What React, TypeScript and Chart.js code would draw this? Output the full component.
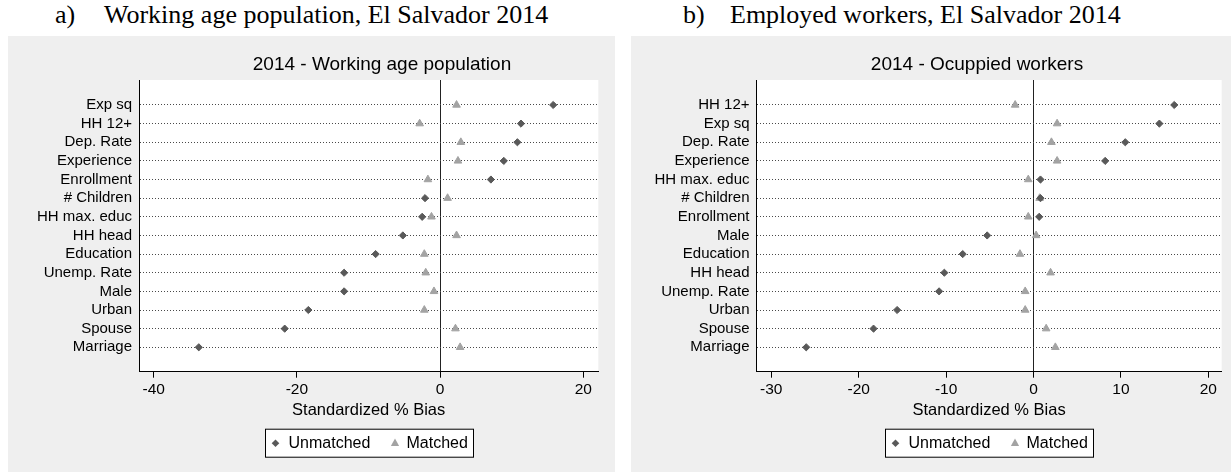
import React, { useEffect, useRef } from 'react';
import { Chart, registerables } from 'chart.js';

Chart.register(...registerables);

// ---------- Data ----------
const leftLabels = ['Exp sq', 'HH 12+', 'Dep. Rate', 'Experience', 'Enrollment', '# Children', 'HH max. educ', 'HH head', 'Education', 'Unemp. Rate', 'Male', 'Urban', 'Spouse', 'Marriage'];
const leftUnmatched = [15.8, 11.3, 10.8, 8.9, 7.1, -2.1, -2.5, -5.2, -9.0, -13.4, -13.4, -18.4, -21.7, -33.7];
const leftMatched = [2.3, -2.85, 2.9, 2.5, -1.7, 1.05, -1.2, 2.3, -2.2, -2.0, -0.85, -2.2, 2.15, 2.8];
const leftTicks = [-40, -20, 0, 20];

const rightLabels = ['HH 12+', 'Exp sq', 'Dep. Rate', 'Experience', 'HH max. educ', '# Children', 'Enrollment', 'Male', 'Education', 'HH head', 'Unemp. Rate', 'Urban', 'Spouse', 'Marriage'];
const rightUnmatched = [16.1, 14.4, 10.5, 8.2, 0.8, 0.8, 0.65, -5.3, -8.1, -10.2, -10.8, -15.6, -18.3, -26.0];
const rightMatched = [-2.1, 2.7, 2.05, 2.7, -0.6, 0.7, -0.6, 0.3, -1.55, 1.95, -0.95, -0.95, 1.45, 2.5];
const rightTicks = [-30, -20, -10, 0, 10, 20];

const seriesNames = ['Unmatched', 'Matched'];
const axisTitle = 'Standardized % Bias';

const FONT = '"Liberation Sans", Arial, Helvetica, sans-serif';
const SERIF = '"Liberation Serif", "Times New Roman", serif';
const DARK = '#595959';
const LIGHT = '#a3a3a3';

function drawDiamond(ctx: CanvasRenderingContext2D, x: number, y: number, r: number, color: string) {
  ctx.beginPath();
  ctx.moveTo(x, y - r);
  ctx.lineTo(x + r, y);
  ctx.lineTo(x, y + r);
  ctx.lineTo(x - r, y);
  ctx.closePath();
  ctx.fillStyle = color;
  ctx.fill();
}

function drawTriangle(ctx: CanvasRenderingContext2D, x: number, y: number, r: number, color: string) {
  ctx.beginPath();
  ctx.moveTo(x, y - r);
  ctx.lineTo(x + r * 0.9, y + r * 0.6);
  ctx.lineTo(x - r * 0.9, y + r * 0.6);
  ctx.closePath();
  ctx.fillStyle = color;
  ctx.fill();
}

const decorPlugin = {
  id: 'decor',
  beforeDraw(chart: any) {
    const { ctx, chartArea: a } = chart;
    ctx.save();
    ctx.fillStyle = '#ffffff';
    ctx.fillRect(a.left, a.top, a.right - a.left, a.bottom - a.top);
    ctx.restore();
  },
  afterDraw(chart: any, _args: any, opts: any) {
    const { ctx, chartArea: a } = chart;
    const cx = (a.left + a.right) / 2;
    ctx.save();
    // title
    ctx.fillStyle = '#000';
    ctx.font = `19px ${FONT}`;
    ctx.textAlign = 'center';
    ctx.textBaseline = 'middle';
    ctx.fillText(opts.title, opts.titleX, 29);
    // axis title
    ctx.font = `16.5px ${FONT}`;
    ctx.fillText(axisTitle, cx, a.bottom + 39);
    // legend
    const bw = 208;
    const bh = 28;
    const bx = Math.round(cx - bw / 2) + 0.5;
    const by = a.bottom + 57.5;
    ctx.fillStyle = '#ffffff';
    ctx.fillRect(bx, by, bw, bh);
    ctx.strokeStyle = '#000';
    ctx.lineWidth = 1;
    ctx.strokeRect(bx, by, bw, bh);
    const my = by + bh / 2;
    drawDiamond(ctx, bx + 10, my, 3.8, DARK);
    drawTriangle(ctx, bx + 129.5, my, 4.6, LIGHT);
    ctx.fillStyle = '#000';
    ctx.font = `16px ${FONT}`;
    ctx.textAlign = 'left';
    ctx.textBaseline = 'middle';
    ctx.fillText(seriesNames[0], bx + 23, my);
    ctx.fillText(seriesNames[1], bx + 141, my);
    ctx.restore();
  },
};

type Area = { left: number; right: number; top: number; bottom: number };

function Panel(props: {
  title: string;
  titleX: number;
  labels: string[];
  unmatched: number[];
  matched: number[];
  xMin: number;
  xMax: number;
  xTicks: number[];
  width: number;
  height: number;
  area: Area;
}) {
  const ref = useRef<HTMLCanvasElement | null>(null);
  const { title, titleX, labels, unmatched, matched, xMin, xMax, xTicks, width, height, area } = props;

  useEffect(() => {
    if (!ref.current) return;
    const rows = labels.map((_, i) => i + 1);
    const chart = new Chart(ref.current, {
      type: 'scatter',
      data: {
        datasets: [
          {
            label: seriesNames[0],
            data: unmatched.map((v, i) => ({ x: v, y: rows[i] })),
            pointStyle: 'rectRot',
            pointRadius: 3.6,
            pointBackgroundColor: DARK,
            pointBorderColor: DARK,
            pointBorderWidth: 1,
          },
          {
            label: seriesNames[1],
            data: matched.map((v, i) => ({ x: v, y: rows[i] })),
            pointStyle: 'triangle',
            pointRadius: 4.4,
            pointBackgroundColor: LIGHT,
            pointBorderColor: LIGHT,
            pointBorderWidth: 1,
          },
        ],
      },
      options: {
        animation: false,
        responsive: false,
        maintainAspectRatio: false,
        events: [],
        layout: { padding: { left: 0, right: width - area.right, top: area.top, bottom: 0 } },
        plugins: {
          legend: { display: false },
          tooltip: { enabled: false },
          title: { display: false },
          decor: { title, titleX },
        } as any,
        scales: {
          x: {
            type: 'linear',
            position: 'bottom',
            min: xMin,
            max: xMax,
            afterBuildTicks: (s: any) => {
              s.ticks = xTicks.map((v) => ({ value: v }));
            },
            afterFit: (s: any) => {
              s.height = height - area.bottom;
            },
            grid: {
              color: (c: any) => (c.tick && c.tick.value === 0 ? '#222222' : 'rgba(0,0,0,0)'),
              lineWidth: 1,
              drawTicks: true,
              tickLength: 6,
              tickColor: '#000',
              tickWidth: 1,
            },
            border: { display: true, color: '#000', width: 1 },
            ticks: {
              font: { family: FONT, size: 15.5 },
              color: '#000',
              padding: 3,
              maxRotation: 0,
              autoSkip: false,
            },
          },
          y: {
            type: 'linear',
            reverse: true,
            min: -0.34,
            max: 15.31,
            afterBuildTicks: (s: any) => {
              s.ticks = rows.map((v) => ({ value: v }));
            },
            afterFit: (s: any) => {
              s.width = area.left;
            },
            grid: {
              color: '#4a4a4a',
              lineWidth: 1,
              drawTicks: false,
            },
            border: { display: true, color: '#000', width: 1, dash: [1, 2] },
            ticks: {
              font: { family: FONT, size: 15 },
              color: '#000',
              padding: 7,
              autoSkip: false,
              callback: (v: any) => labels[Number(v) - 1] ?? '',
            },
          },
        },
      },
      plugins: [decorPlugin as any],
    });
    return () => chart.destroy();
  }, []);

  return <canvas ref={ref} width={width} height={height} style={{ display: 'block', width, height }} />;
}

const captionStyle: React.CSSProperties = {
  position: 'absolute',
  top: 2,
  font: `26px ${SERIF}`,
  lineHeight: '26px',
  whiteSpace: 'pre',
  color: '#000',
};

export default function App() {
  return (
    <div style={{ position: 'absolute', left: 0, top: 0, width: 1231, height: 472, background: '#fff', overflow: 'hidden' }}>
      <div style={{ ...captionStyle, left: 55 }}>a)</div>
      <div style={{ ...captionStyle, left: 104 }}>Working age population, El Salvador 2014</div>
      <div style={{ ...captionStyle, left: 683 }}>b)</div>
      <div style={{ ...captionStyle, left: 730 }}>Employed workers, El Salvador 2014</div>

      <div style={{ position: 'absolute', left: 8, top: 36, width: 607, height: 436, background: '#efefef' }}>
        <Panel
          title="2014 - Working age population"
          titleX={374}
          labels={leftLabels}
          unmatched={leftUnmatched}
          matched={leftMatched}
          xMin={-42.05}
          xMax={22.1}
          xTicks={leftTicks}
          width={607}
          height={436}
          area={{ left: 131, right: 590.3, top: 44, bottom: 335.7 }}
        />
      </div>
      <div style={{ position: 'absolute', left: 631, top: 36, width: 600, height: 436, background: '#efefef' }}>
        <Panel
          title="2014 - Ocuppied workers"
          titleX={346}
          labels={rightLabels}
          unmatched={rightUnmatched}
          matched={rightMatched}
          xMin={-31.69}
          xMax={21.53}
          xTicks={rightTicks}
          width={600}
          height={436}
          area={{ left: 125.5, right: 590.7, top: 44, bottom: 335.7 }}
        />
      </div>
    </div>
  );
}
